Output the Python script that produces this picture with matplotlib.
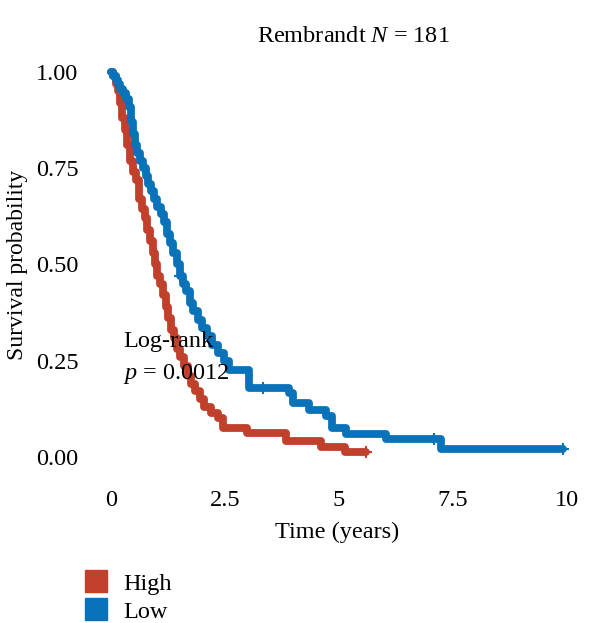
import matplotlib
matplotlib.use("Agg")
import matplotlib.pyplot as plt
from matplotlib.lines import Line2D

plt.rcParams['font.family'] = ['Liberation Serif', 'DejaVu Serif']
plt.rcParams['mathtext.fontset'] = 'custom'
plt.rcParams['mathtext.rm'] = 'Liberation Serif'
plt.rcParams['mathtext.it'] = 'Liberation Serif:italic'

# ---- data ----
high_time = [0, 0.05, 0.1, 0.15, 0.2, 0.25, 0.3, 0.36, 0.42, 0.48, 0.55, 0.62, 0.68,
             0.74, 0.8, 0.86, 0.92, 0.97, 1.02, 1.08, 1.14, 1.2, 1.26, 1.32, 1.38,
             1.45, 1.52, 1.6, 1.68, 1.76, 1.85, 1.95, 2.05, 2.2, 2.35, 2.45, 2.98,
             3.85, 4.6, 5.14, 5.6]
high_surv = [1.0, 0.99, 0.97, 0.95, 0.92, 0.88, 0.85, 0.81, 0.77, 0.74, 0.72, 0.67,
             0.645, 0.62, 0.59, 0.56, 0.53, 0.5, 0.47, 0.45, 0.42, 0.39, 0.36, 0.33,
             0.31, 0.28, 0.26, 0.235, 0.21, 0.19, 0.17, 0.15, 0.13, 0.114, 0.1,
             0.075, 0.062, 0.04, 0.026, 0.013, 0.013]
high_cens_time = [5.6]
high_cens_surv = [0.013]

low_time = [0, 0.05, 0.1, 0.15, 0.2, 0.26, 0.33, 0.4, 0.44, 0.48, 0.53, 0.58, 0.64,
            0.7, 0.76, 0.82, 0.88, 0.95, 1.02, 1.09, 1.16, 1.23, 1.3, 1.37, 1.44,
            1.51, 1.58, 1.65, 1.73, 1.81, 1.9, 2.0, 2.1, 2.22, 2.35, 2.48, 2.6,
            3.04, 3.9, 4.0, 4.35, 4.73, 4.86, 5.16, 6.04, 7.24, 9.93]
low_surv = [1.0, 0.99, 0.98, 0.97, 0.955, 0.945, 0.93, 0.91, 0.87, 0.84, 0.81, 0.79,
            0.77, 0.75, 0.73, 0.71, 0.69, 0.67, 0.65, 0.63, 0.61, 0.58, 0.555, 0.53,
            0.5, 0.47, 0.45, 0.43, 0.40, 0.38, 0.355, 0.335, 0.315, 0.29, 0.27,
            0.25, 0.225, 0.18, 0.165, 0.14, 0.122, 0.105, 0.075, 0.058, 0.045,
            0.02, 0.02]
low_cens_time = [1.51, 3.33, 7.1, 9.93]
low_cens_surv = [0.47, 0.18, 0.045, 0.02]

groups = ["High", "Low"]
colors = ["#C0402B", "#0A72B8"]
x_ticks = [0, 2.5, 5, 7.5, 10]
x_tick_labels = ["0", "2.5", "5", "7.5", "10"]
y_ticks = [0, 0.25, 0.5, 0.75, 1.0]
y_tick_labels = ["0.00", "0.25", "0.50", "0.75", "1.00"]

FS = 17.5

fig = plt.figure(figsize=(6.0, 6.23), dpi=100)
ax = fig.add_axes([0.147, 0.236, 0.83, 0.679])

series = [(high_time, high_surv, high_cens_time, high_cens_surv),
          (low_time, low_surv, low_cens_time, low_cens_surv)]
for (t, s, ct, cs), c in zip(series, colors):
    ax.step(t, s, where="post", color=c, lw=5.6, solid_joinstyle="round",
            solid_capstyle="round")
    ax.plot(ct, cs, linestyle="none", marker="+", color=c, ms=9, mew=1.5)

ax.set_xlim(-0.5, 10.43)
ax.set_ylim(-0.05, 1.05)
ax.set_xticks(x_ticks)
ax.set_xticklabels(x_tick_labels)
ax.set_yticks(y_ticks)
ax.set_yticklabels(y_tick_labels)
ax.tick_params(axis="x", length=0, labelsize=FS, pad=10)
ax.tick_params(axis="y", length=0, labelsize=FS, pad=7)
for sp in ax.spines.values():
    sp.set_visible(False)

ax.set_xlabel("Time (years)", fontsize=FS, labelpad=8)
ax.set_ylabel("Survival probability", fontsize=17, labelpad=6)
ax.set_title("Rembrandt $N$ = 181", fontsize=FS, pad=8, x=0.532)

ax.text(0.26, 0.30, "Log-rank", fontsize=FS, va="center", ha="left")
ax.text(0.26, 0.215, "$p$ = 0.0012", fontsize=FS, va="center", ha="left")

handles = [Line2D([], [], linestyle="none", marker="s", ms=16, color=c) for c in colors]
fig.legend(handles, groups, loc="upper left", bbox_to_anchor=(0.12, 0.1),
           frameon=False, fontsize=FS, handlelength=1.0, handletextpad=0.6,
           labelspacing=0.25, borderpad=0)

fig.savefig("out.png", dpi=100)
